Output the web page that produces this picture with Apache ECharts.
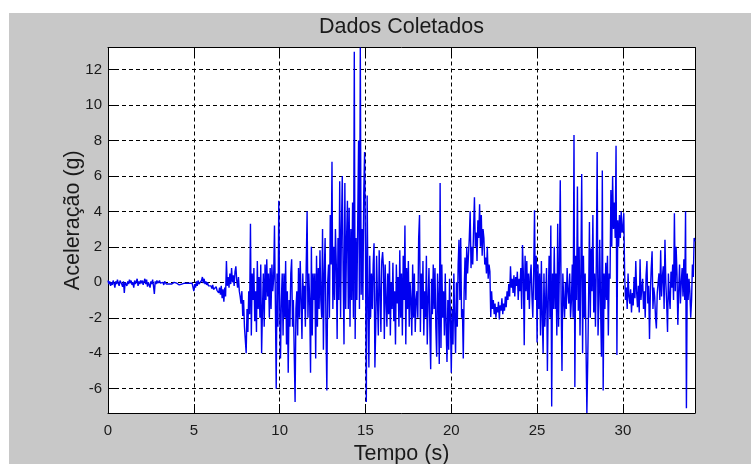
<!DOCTYPE html>
<html><head><meta charset="utf-8">
<script src="https://cdn.jsdelivr.net/npm/echarts@6/dist/echarts.min.js"></script>
<style>html,body{margin:0;padding:0;background:#fff;width:751px;height:464px;overflow:hidden;}#chart{position:absolute;left:9px;top:13px;width:742px;height:451px;}</style>
</head><body><div id="chart"></div>
<script>
const chartTitle = 'Dados Coletados';
const xAxisName = 'Tempo (s)';
const yAxisName = 'Aceleração (g)';
const xTicks = [0, 5, 10, 15, 20, 25, 30];
const yTicks = [-6, -4, -2, 0, 2, 4, 6, 8, 10, 12];
const xRange = [0, 34.2];
const yRange = [-7.37, 13.24];
const sampleInterval = 0.05; // seconds between samples
const acceleration = [
0.1,-0.1,0.05,-0.2,0.0,-0.15,0.1,-0.05,-0.3,0.05,-0.1,0.15,-0.05,-0.2,0.1,0.0,-0.1,-0.25,0.05,-0.6,
0.0,0.1,-0.2,0.05,-0.1,0.15,-0.05,0.1,-0.15,0.0,-0.3,0.1,-0.1,0.05,0.2,-0.2,0.05,-0.1,0.1,-0.05,
0.1,-0.15,0.05,0.2,-0.1,0.15,-0.25,0.0,0.1,-0.3,0.05,-0.1,0.15,-0.2,-0.65,0.05,-0.1,0.1,-0.05,0.0,
0.1,-0.05,0.05,-0.1,0.0,-0.15,0.05,-0.05,-0.1,0.0,-0.05,-0.1,-0.05,0.0,-0.1,-0.05,-0.1,0.0,-0.05,-0.1,
-0.05,-0.1,-0.05,-0.15,-0.1,-0.05,-0.1,-0.15,-0.1,-0.05,-0.1,-0.1,-0.05,-0.15,-0.1,-0.05,-0.1,-0.15,-0.05,-0.1,
-0.5,-0.1,-0.3,0.05,-0.2,0.1,-0.1,0.0,-0.15,0.1,0.3,-0.05,0.2,-0.1,0.05,-0.15,0.0,-0.2,-0.1,-0.25,
-0.2,-0.35,-0.15,-0.4,-0.3,-0.5,-0.25,-0.45,-0.35,-0.6,-0.3,-0.7,-0.2,-0.9,-0.4,-1.1,-0.3,-0.8,1.2,-0.2,
0.3,-0.3,0.5,-0.1,0.8,0.0,0.4,-0.2,0.6,0.9,0.1,-0.3,0.3,-0.5,-0.8,-1.2,-0.5,-1.9,-1.0,-2.5,
-2.5,-4.0,-1.5,-2.8,-0.5,-1.8,3.3,-3.0,0.5,-1.0,0.8,-2.2,-0.5,-2.8,1.2,-1.5,0.3,-2.0,1.0,-4.0,
-1.5,0.5,-2.5,1.0,-1.0,1.3,-0.8,0.5,-2.0,0.8,-1.5,1.0,-0.5,0.2,3.2,-1.0,-6.0,0.5,-2.5,4.6,
-1.0,-4.3,-1.0,0.5,-3.0,0.5,-2.0,1.2,-3.5,-0.5,-5.1,-1.0,-2.5,0.5,1.3,-2.5,-1.0,-4.0,-6.75,-1.5,
-0.5,-3.0,0.8,-2.0,1.2,-1.0,-3.2,0.5,-1.5,-0.2,-2.5,1.0,4.0,-2.0,0.5,-1.0,-5.1,2.0,-3.0,0.5,
-1.0,0.5,-4.3,1.5,-2.5,0.8,-1.5,1.8,-1.0,-2.0,3.0,-3.8,0.5,2.5,-2.5,-6.1,0.0,1.0,-2.0,3.8,
1.0,6.8,-1.5,2.0,-1.0,3.0,1.0,-3.2,2.5,-1.0,5.7,-2.0,3.0,6.0,0.5,-3.5,5.6,-1.5,2.5,4.6,
-1.5,4.2,-2.5,3.0,-1.0,4.5,-2.0,13.0,-3.2,2.5,-1.0,3.5,8.0,-1.5,13.24,-0.7,3.0,-1.0,5.0,7.35,
2.0,-6.75,4.9,-1.0,-4.8,1.5,-2.0,0.5,-1.5,1.0,2.2,-4.8,-2.5,1.5,-1.0,-3.0,1.8,-0.5,-2.8,1.2,
1.7,0.8,-3.2,1.0,-1.0,-2.5,0.5,-1.8,1.2,-3.0,0.0,-1.5,1.1,-2.2,-0.5,-3.5,1.0,-1.2,0.3,-2.5,
1.8,-2.0,0.5,-3.0,1.5,-1.0,3.2,-3.5,0.8,-1.5,1.2,-2.5,0.0,-1.0,-3.0,1.0,-2.0,0.5,-2.8,-1.0,
-0.5,-2.0,2.5,3.8,-2.8,0.5,-1.5,1.2,-3.0,-0.5,-2.0,1.5,-3.5,-1.0,0.8,-2.5,-4.9,0.2,-1.8,1.0,
-1.5,0.8,-2.5,-4.2,0.5,-1.0,-4.6,5.6,-3.7,1.0,-2.0,-0.5,-3.0,0.5,-2.5,-4.5,-1.0,-3.8,0.2,-2.0,
-5.1,-1.5,-3.5,0.5,-2.0,-4.0,0.0,-2.5,1.0,2.4,-1.0,2.5,-2.0,-1.5,-4.3,-0.5,1.4,-1.0,2.0,0.5,
1.5,2.5,4.0,0.8,2.0,1.0,3.0,4.8,2.0,2.8,1.2,3.5,2.5,4.4,2.0,3.8,1.5,3.0,2.5,1.0,
1.4,0.5,2.0,0.2,1.0,0.6,-1.95,-0.5,-1.5,-1.0,-1.8,-1.2,-2.0,-1.4,-1.7,-1.1,-2.1,-1.3,-1.6,-0.9,
-1.8,-1.2,-1.6,-0.8,-1.4,-0.5,-1.0,-0.1,-0.8,0.9,-0.3,0.2,-0.6,0.4,-0.8,0.3,-0.2,0.6,-1.0,0.2,
-0.5,0.8,-1.5,2.1,0.5,-3.55,1.5,-0.5,1.2,-1.0,0.5,-1.5,0.3,1.0,-0.8,-2.0,0.5,4.06,-1.0,1.5,
-3.4,1.0,-1.5,0.5,-3.0,1.2,-2.0,-4.0,0.5,-2.5,-1.0,0.8,-5.0,-1.0,1.5,-2.0,3.2,-7.0,0.5,-1.5,
2.0,-1.5,0.5,-3.0,3.3,-2.5,1.0,5.75,-1.0,-5.0,0.5,-1.0,-2.0,0.0,-1.5,0.8,-0.5,-1.2,0.5,-2.0,
-1.0,1.0,-2.0,8.3,-5.9,1.5,-1.0,5.4,-1.6,2.0,-3.0,0.5,6.1,-4.0,1.5,-2.0,0.5,-3.5,-7.37,-4.5,
-1.0,3.4,-2.0,1.9,-0.5,3.8,-1.7,0.5,-2.5,1.0,7.35,-3.0,-1.0,2.4,-1.5,-4.2,6.3,-6.1,0.5,-1.5,
1.1,-1.0,1.5,-3.0,0.5,0.2,5.2,2.0,6.0,3.0,4.5,2.5,7.7,-4.1,3.5,2.0,3.8,2.5,4.0,2.8,
3.0,3.9,0.5,-1.0,-0.3,-1.5,0.5,-0.8,-1.2,-0.4,-1.7,-0.6,-1.3,0.3,-0.9,1.2,-0.55,-1.4,-0.2,-1.7,
1.3,-1.0,-0.3,0.2,-1.5,-0.5,-2.0,0.4,1.2,-1.2,-0.2,-3.2,-0.55,0.8,1.75,-1.5,-0.3,-0.8,-2.0,-2.6,
-0.6,-0.5,0.5,-1.0,1.8,-0.8,0.3,0.9,-1.5,2.4,0.0,-1.2,-2.8,0.5,-0.8,-1.5,0.6,-0.3,1.0,-1.0,
3.9,-0.5,2.0,0.5,-2.4,-0.5,1.0,-1.2,0.0,0.8,-0.8,1.3,-1.0,4.0,-7.1,0.5,-1.0,0.2,-0.5,-2.0,
-1.0,1.0,0.3,2.5,2.3
];

const FONT = '"Liberation Sans", Arial, Helvetica, sans-serif';
const TITLE_SIZE = 21.5;
const seriesData = acceleration.map((v, i) => [Math.round(i * sampleInterval * 1000) / 1000, v]);

// centre the title over the plot area
const GRID = {left: 99, top: 34.5, right: 56, bottom: 51};
const CHART_W = 742;
const ctx = document.createElement('canvas').getContext('2d');
ctx.font = TITLE_SIZE + 'px ' + FONT;
const titleW = ctx.measureText(chartTitle).width;
const plotCenter = GRID.left + (CHART_W - GRID.left - GRID.right) / 2;

const chart = echarts.init(document.getElementById('chart'), null, {renderer: 'canvas'});
const axisLine = {show: true, onZero: false, lineStyle: {color: '#000', width: 1}};
chart.setOption({
  animation: false,
  backgroundColor: '#c8c8c8',
  title: {
    text: chartTitle,
    left: plotCenter - titleW / 2,
    top: 3,
    padding: 0,
    textStyle: {fontFamily: FONT, fontSize: TITLE_SIZE, fontWeight: 'normal', color: '#1a1a1a'}
  },
  grid: {left: GRID.left, top: GRID.top, right: GRID.right, bottom: GRID.bottom,
         outerBoundsMode: 'none', containLabel: false,
         show: true, backgroundColor: '#ffffff', borderWidth: 0},
  xAxis: [
    {type: 'value', position: 'bottom', min: xRange[0], max: xRange[1],
     axisLine: axisLine,
     axisTick: {show: true, inside: true, length: 9, customValues: xTicks, lineStyle: {color: '#000'}},
     axisLabel: {customValues: xTicks, margin: 10, color: '#1a1a1a', fontSize: 15, fontFamily: FONT},
     splitLine: {show: true, lineStyle: {color: '#000', width: 1, type: [4, 3]}},
     name: xAxisName, nameLocation: 'middle', nameGap: 30, nameMoveOverlap: false,
     nameTextStyle: {fontSize: TITLE_SIZE, fontFamily: FONT, color: '#1a1a1a'}},
    {type: 'value', position: 'top', min: xRange[0], max: xRange[1],
     axisLine: axisLine,
     axisTick: {show: true, inside: true, length: 9, customValues: xTicks, lineStyle: {color: '#000'}},
     axisLabel: {show: false}, splitLine: {show: false}}
  ],
  yAxis: [
    {type: 'value', position: 'left', min: yRange[0], max: yRange[1],
     axisLine: axisLine,
     axisTick: {show: true, inside: true, length: 9, customValues: yTicks, lineStyle: {color: '#000'}},
     axisLabel: {customValues: yTicks, margin: 6, color: '#1a1a1a', fontSize: 15, fontFamily: FONT},
     splitLine: {show: true, lineStyle: {color: '#000', width: 1, type: [4, 3]}},
     name: yAxisName, nameLocation: 'middle', nameGap: 24, nameRotate: 90, nameMoveOverlap: false,
     nameTextStyle: {fontSize: TITLE_SIZE, fontFamily: FONT, color: '#1a1a1a', padding: [0, 0, 0, 20]}},
    {type: 'value', position: 'right', min: yRange[0], max: yRange[1],
     axisLine: axisLine,
     axisTick: {show: true, inside: true, length: 9, customValues: yTicks, lineStyle: {color: '#000'}},
     axisLabel: {show: false}, splitLine: {show: false}}
  ],
  series: [{
    type: 'line', xAxisIndex: 0, yAxisIndex: 0,
    data: seriesData, showSymbol: false, symbol: 'none', clip: true,
    lineStyle: {color: '#0000f0', width: 1.4},
    emphasis: {disabled: true}
  }]
});
</script></body></html>
